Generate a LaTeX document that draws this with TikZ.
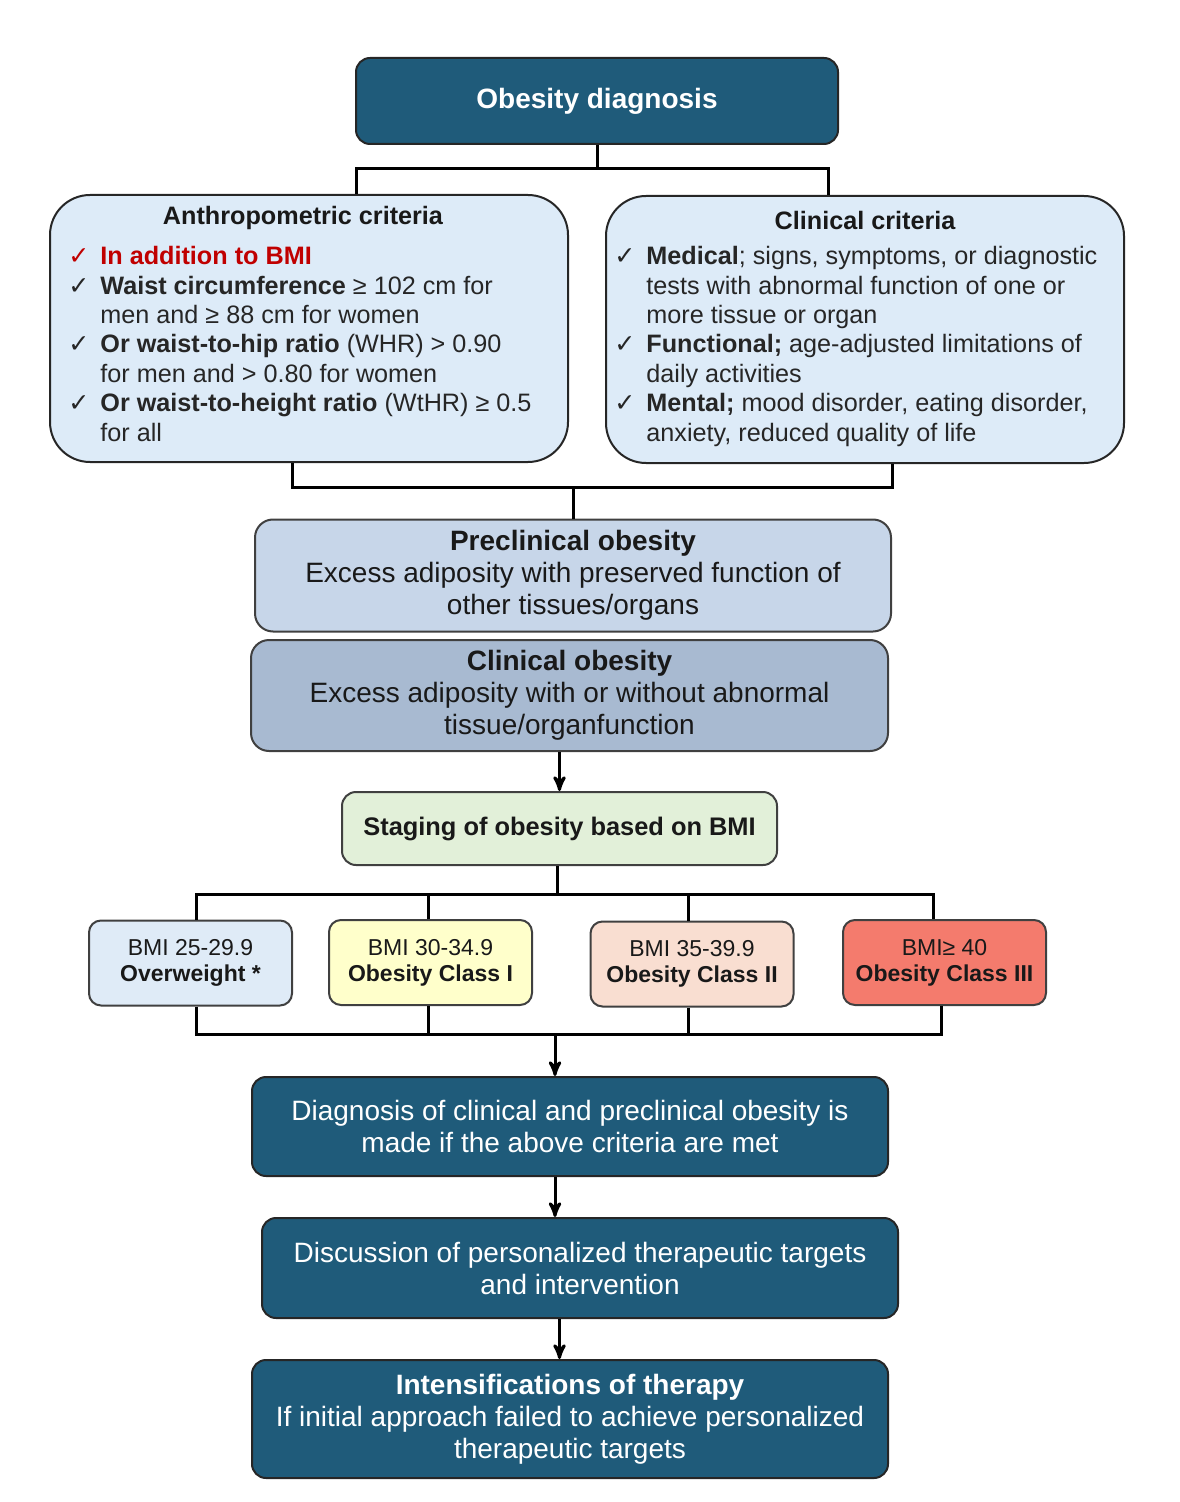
\documentclass[tikz,border=0pt]{standalone}
\usepackage{fontspec}
\setmainfont{Liberation Sans}
\newfontfamily\symfont{DejaVu Sans}
\usepackage{xcolor}
\usetikzlibrary{arrows}
\usetikzlibrary{calc}
\usetikzlibrary{positioning}

\definecolor{diagblue}{HTML}{1F5B7A}
\definecolor{critblue}{HTML}{DDEBF8}
\definecolor{preblue}{HTML}{C7D6E9}
\definecolor{clinblue}{HTML}{A8BAD1}
\definecolor{stagegreen}{HTML}{E2F0D9}
\definecolor{bmiblue}{HTML}{DFEBF7}
\definecolor{bmiyellow}{HTML}{FFFFCB}
\definecolor{bmipeach}{HTML}{F9DED1}
\definecolor{bmired}{HTML}{F47B6D}
\definecolor{critred}{HTML}{C00000}

\newcommand{\ck}{\makebox[16pt][l]{\symfont ✓}}
\newcommand{\ind}{\hspace*{16pt}}

\begin{document}
\begin{tikzpicture}[x=0.5pt, y=-0.5pt]
\tikzset{
  darkbox/.style={draw=black!85, fill=diagblue, text=white, rounded corners=7pt, align=center, line width=1pt, font=\fontsize{14}{16}\selectfont},
  critbox/.style={draw=black!85, fill=critblue, rounded corners=20pt, line width=1pt, minimum width=259pt, minimum height=133.5pt},
  crittitle/.style={font=\bfseries\fontsize{12.6}{14.7}\selectfont, text=black!90},
  critlist/.style={anchor=north west, inner sep=0pt, align=left, text=black!85, font=\fontsize{12.6}{14.7}\selectfont},
  obbox/.style={draw=black!75, rounded corners=9pt, line width=1pt, align=center, minimum width=318pt, minimum height=56pt, text=black!90, font=\fontsize{14}{16}\selectfont},
  bmibox/.style={draw=black!75, rounded corners=6pt, line width=1pt, align=center, minimum width=101.5pt, minimum height=42.5pt, text=black!90, font=\fontsize{11.5}{13}\selectfont},
  link/.style={line width=1.5pt},
}
\tikzset{>=stealth'}

\useasboundingbox (0,0) rectangle (1179,1502);

% top
\node[darkbox, font=\bfseries\fontsize{14}{16}\selectfont, minimum width=241pt, minimum height=43pt] (diag) at (597,101) {Obesity diagnosis};

% criteria
\node[critbox] (anthro) at (309,328.5) {};
\node[crittitle] (anthrot) at (303,218) {Anthropometric criteria};
\node[critlist] (anthrol) at (68,246) {%
  {\color{critred}\ck\textbf{In addition to BMI}}\\
  \ck\textbf{Waist circumference} ≥ 102 cm for\\
  \ind men and ≥ 88 cm for women\\
  \ck\textbf{Or waist-to-hip ratio} (WHR) > 0.90\\
  \ind for men and > 0.80 for women\\
  \ck\textbf{Or waist-to-height ratio} (WtHR) ≥ 0.5\\
  \ind for all};

\node[critbox] (clin) at (865,329.5) {};
\node[crittitle] (clint) at (865,220) {Clinical criteria};
\node[critlist] (clinl) at (614,246) {%
  \ck\textbf{Medical}; signs, symptoms, or diagnostic\\
  \ind tests with abnormal function of one or\\
  \ind more tissue or organ\\
  \ck\textbf{Functional;} age-adjusted limitations of\\
  \ind daily activities\\
  \ck\textbf{Mental;} mood disorder, eating disorder,\\
  \ind anxiety, reduced quality of life};

% obesity types
\node[obbox, fill=preblue] (precl) at (573,575.5) {\textbf{Preclinical obesity}\\Excess adiposity with preserved function of\\other tissues/organs};
\node[obbox, fill=clinblue, minimum width=318.5pt, minimum height=55.5pt] (clob) at (569.5,695.5) {\textbf{Clinical obesity}\\Excess adiposity with or without abnormal\\tissue/organfunction};

\node[obbox, fill=stagegreen, minimum width=217.5pt, minimum height=36.5pt, rounded corners=7pt, font=\bfseries\fontsize{12.7}{15}\selectfont] (stage) at (559.5,828.5) {Staging of obesity based on BMI};

% BMI classes
\node[bmibox, fill=bmiblue] (bmiA) at (190.5,963) {BMI 25-29.9\\\textbf{Overweight *}};
\node[bmibox, fill=bmiyellow] (bmiB) at (430.5,962.5) {BMI 30-34.9\\\textbf{Obesity Class I}};
\node[bmibox, fill=bmipeach] (bmiC) at (692,964) {BMI 35-39.9\\\textbf{Obesity Class II}};
\node[bmibox, fill=bmired] (bmiD) at (944.5,962.5) {BMI≥ 40\\\textbf{Obesity Class III}};

% management
\node[darkbox, minimum width=318pt, minimum height=49.5pt] (dgn) at (570,1126.5) {Diagnosis of clinical and preclinical obesity is\\made if the above criteria are met};
\node[darkbox, minimum width=318pt, minimum height=50pt] (disc) at (580,1268) {Discussion of personalized therapeutic targets\\and intervention};
\node[darkbox, minimum width=318pt, minimum height=59pt] (inten) at (570,1419) {\textbf{Intensifications of therapy}\\If initial approach failed to achieve personalized\\therapeutic targets};

% connectors
\coordinate (j1) at ($(diag.south)+(0,24)$);
\draw[link] (diag.south) -- (j1);
\draw[link] ($(anthro.north)+(47,0)$) |- (j1) -| ($(clin.north)+(-37,0)$);

\coordinate (j2) at ($(precl.north)+(0,-31)$);
\draw[link] ($(anthro.south)+(-17,0)$) |- (j2) -| ($(clin.south)+(27,0)$);
\draw[link] (j2) -- (precl.north);

\draw[link, ->] (clob.south -| stage.north) -- (stage.north);

\coordinate (j3) at ($(stage.south)+(-2.5,28)$);
\draw[link] (stage.south -| j3) -- (j3);
\draw[link] ($(bmiA.north)+(5.5,0)$) |- (j3) -| ($(bmiD.north)+(-11.5,0)$);
\draw[link] ($(bmiB.north)+(-2.5,0)$) -- ($(bmiB.north |- j3)+(-2.5,0)$);
\draw[link] ($(bmiC.north)+(-4,0)$) -- ($(bmiC.north |- j3)+(-4,0)$);

\coordinate (j4) at (555,1034);
\draw[link] ($(bmiA.south)+(5.5,0)$) |- (j4) -| ($(bmiD.south)+(-3.5,0)$);
\draw[link] ($(bmiB.south)+(-2.5,0)$) -- ($(bmiB.south |- j4)+(-2.5,0)$);
\draw[link] ($(bmiC.south)+(-4,0)$) -- ($(bmiC.south |- j4)+(-4,0)$);
\draw[link, ->] (j4) -- (j4 |- dgn.north);

\draw[link, ->] (dgn.south -| j4) -- (disc.north -| j4);
\draw[link, ->] (disc.south -| stage.north) -- (inten.north -| stage.north);

\end{tikzpicture}
\end{document}
